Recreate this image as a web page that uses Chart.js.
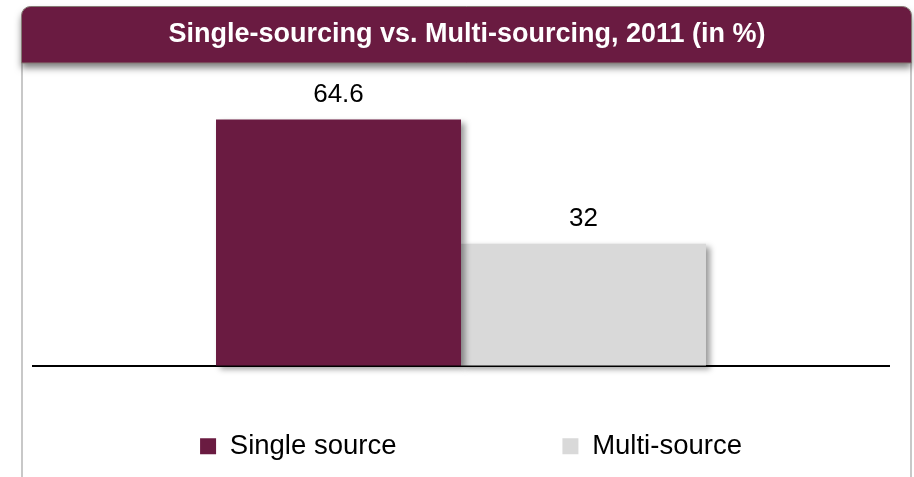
<!DOCTYPE html>
<html>
<head>
<meta charset="utf-8">
<script src="https://cdn.jsdelivr.net/npm/chart.js@4/dist/chart.umd.min.js"></script>
<style>
  body { margin: 0; background: #fff; }
  canvas { display: block; }
</style>
</head>
<body>
<canvas id="sourcingChart" width="914" height="477"></canvas>
<script>
const categories = ['2011'];
const seriesNames = ['Single source', 'Multi-source'];
const singleSource = [64.6];
const multiSource = [32];
const chartTitle = 'Single-sourcing vs. Multi-sourcing, 2011 (in %)';

const maroon = '#6a1b41';
const lightGrey = '#d9d9d9';
const fontFamily = "'Liberation Sans', Arial, sans-serif";

// white page, grey side rules and the maroon title bar
const framePlugin = {
    id: 'frame',
    beforeDraw(chart) {
        const ctx = chart.ctx;
        ctx.save();
        ctx.fillStyle = '#fff';
        ctx.fillRect(0, 0, chart.width, chart.height);
        ctx.fillStyle = '#c8c8c8';
        ctx.fillRect(21, 20, 2, chart.height - 20);
        ctx.fillRect(910, 20, 2, chart.height - 20);
        ctx.shadowColor = 'rgba(0,0,0,0.5)';
        ctx.shadowBlur = 7;
        ctx.shadowOffsetY = 5;
        ctx.beginPath();
        ctx.roundRect(21.5, 6.5, 890, 56.5, [9, 9, 0, 0]);
        ctx.fillStyle = maroon;
        ctx.fill();
        ctx.shadowColor = 'transparent';
        ctx.strokeStyle = '#857a74';
        ctx.lineWidth = 1;
        ctx.stroke();
        ctx.restore();
    }
};

// soft drop shadow on the bars
const barShadow = {
    id: 'barShadow',
    beforeDatasetsDraw(chart) {
        const ctx = chart.ctx;
        ctx.save();
        ctx.shadowColor = 'rgba(0,0,0,0.4)';
        ctx.shadowBlur = 6;
        ctx.shadowOffsetX = 4;
        ctx.shadowOffsetY = 3;
    },
    afterDatasetsDraw(chart) {
        chart.ctx.restore();
    }
};

// value above each bar
const valueLabels = {
    id: 'valueLabels',
    afterDraw(chart) {
        const ctx = chart.ctx;
        ctx.save();
        ctx.font = '26px ' + fontFamily;
        ctx.fillStyle = '#000';
        ctx.textAlign = 'center';
        ctx.textBaseline = 'alphabetic';
        chart.data.datasets.forEach((ds, i) => {
            chart.getDatasetMeta(i).data.forEach((bar, j) => {
                ctx.fillText(String(ds.data[j]), bar.x, bar.y - 18);
            });
        });
        ctx.restore();
    }
};

// title and legend sit a little right of the plot centre
const nudge = {
    id: 'nudge',
    afterLayout(chart) {
        chart.titleBlock.left += 6;
        chart.titleBlock.right += 6;
        chart.legend.left += 10;
        chart.legend.right += 10;
    }
};

new Chart(document.getElementById('sourcingChart'), {
    type: 'bar',
    data: {
        labels: categories,
        datasets: [{
            label: seriesNames[0],
            data: singleSource,
            backgroundColor: maroon,
            borderWidth: 0,
            categoryPercentage: 0.5724,
            barPercentage: 1,
            clip: false
        }, {
            label: seriesNames[1],
            data: multiSource,
            backgroundColor: lightGrey,
            borderWidth: 0,
            categoryPercentage: 0.5724,
            barPercentage: 1,
            clip: false
        }]
    },
    options: {
        responsive: false,
        animation: false,
        layout: { padding: { top: 6, left: 33, right: 25, bottom: 7 } },
        scales: {
            x: {
                z: 1,
                grid: { display: false },
                ticks: { display: false },
                border: { color: '#000', width: 2 }
            },
            y: { display: false, min: 0, max: 80 }
        },
        plugins: {
            tooltip: { enabled: false },
            title: {
                display: true,
                text: chartTitle,
                color: '#fff',
                font: { family: fontFamily, size: 27, weight: 'bold', lineHeight: 1.2 },
                padding: { top: 12.8, bottom: 9.8 }
            },
            legend: {
                position: 'bottom',
                labels: {
                    color: '#000',
                    font: { family: fontFamily, size: 27.5 },
                    boxWidth: 16,
                    boxHeight: 16,
                    padding: 59,
                    generateLabels(chart) {
                        const items = Chart.defaults.plugins.legend.labels.generateLabels(chart);
                        // wider gap after the first entry
                        items[0].text = items[0].text + ' '.repeat(14);
                        return items;
                    }
                }
            }
        }
    },
    plugins: [framePlugin, barShadow, valueLabels, nudge]
});
</script>
</body>
</html>
